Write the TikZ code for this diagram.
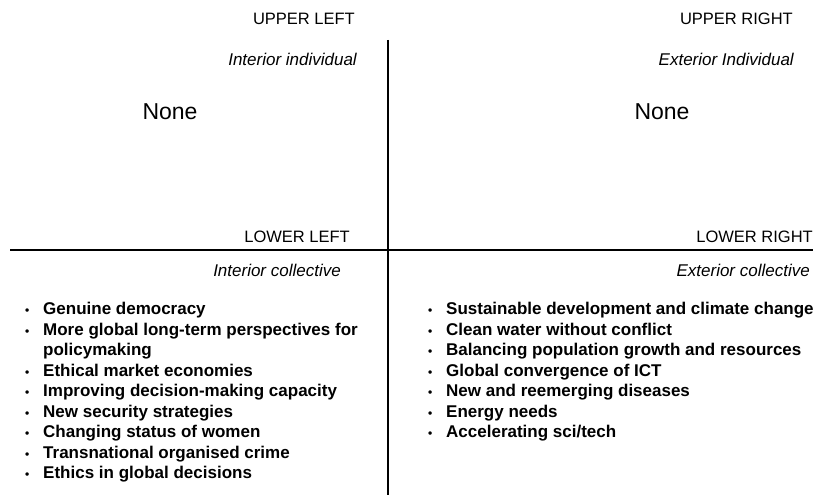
\documentclass[tikz,border=0pt]{standalone}
\usepackage{fontspec}
\setmainfont{Liberation Sans}
\usetikzlibrary{positioning}
\tikzset {
corner/.style={anchor=east,inner sep=0pt,font=\fontsize{16.5}{19}\selectfont},
quadrant/.style={anchor=east,inner sep=0pt,font=\fontsize{17}{20}\selectfont\itshape},
none/.style={inner sep=0pt,font=\fontsize{23}{27}\selectfont},
items/.style={anchor=north west,inner sep=0pt,align=left,font=\fontsize{17}{20.5}\selectfont\bfseries},
axis/.style={line width=1.6pt}
}
\newcommand{\bul}{\makebox[18pt][l]{\fontsize{12}{12}\selectfont\textbullet}}

\begin{document}
\begin{tikzpicture}[x=1pt,y=-1pt]
\useasboundingbox (0,0) rectangle (817,495);
% axes
\coordinate (vtop) at (388,40);
\coordinate (vbot) at (388,495);
\coordinate (hleft) at (10,250);
\coordinate (hright) at (813,250);
\draw[axis] (vtop) -- (vbot);
\draw[axis] (hleft) -- (hright);

\node[corner] (upper left) at (355,19) {UPPER LEFT};
\node[corner] (upper right) at (793,19) {UPPER RIGHT};
\node[corner] (lower left) at (350,237) {LOWER LEFT};
\node[corner] (lower right) at (813,237) {LOWER RIGHT};

\node[quadrant] (interior individual) at (357,59) {Interior individual};
\node[quadrant] (exterior individual) at (794,59) {Exterior Individual};
\node[quadrant] (interior collective) at (341,270) {Interior collective};
\node[quadrant] (exterior collective) at (810,270) {Exterior collective};

\node[none] (none left) at (170,112) {None};
\node[none] (none right) at (662,112) {None};

\node[items] (left list) at (25,302) {\bul Genuine democracy\\
\bul More global long-term perspectives for\\
\hspace*{18pt}policymaking\\
\bul Ethical market economies\\
\bul Improving decision-making capacity\\
\bul New security strategies\\
\bul Changing status of women\\
\bul Transnational organised crime\\
\bul Ethics in global decisions};
\node[items] (right list) at (428,302) {\bul Sustainable development and climate change\\
\bul Clean water without conflict\\
\bul Balancing population growth and resources\\
\bul Global convergence of ICT\\
\bul New and reemerging diseases\\
\bul Energy needs\\
\bul Accelerating sci/tech};
\end{tikzpicture}
\end{document}
